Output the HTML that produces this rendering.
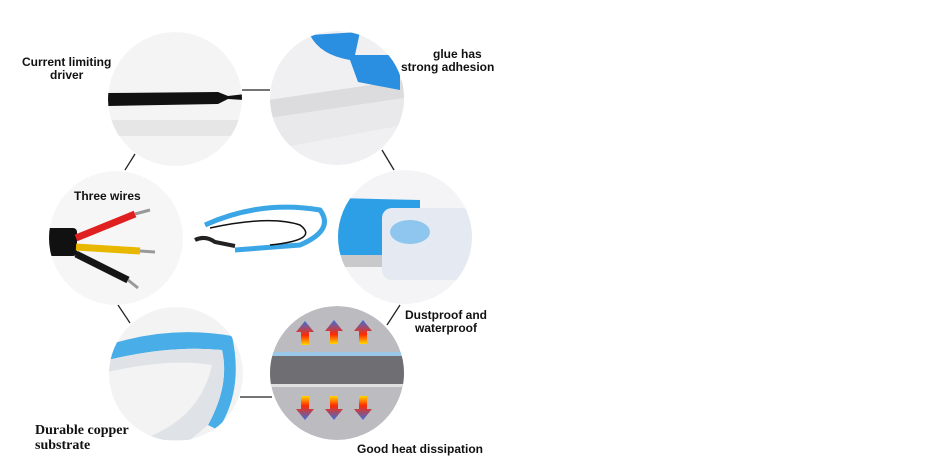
<!DOCTYPE html>
<html><head><style>
body{margin:0;width:950px;height:470px;background:#fff;overflow:hidden}
svg{position:absolute;left:0;top:0}
.t{font-family:"Liberation Sans",sans-serif;font-weight:bold;font-size:12px;fill:#111}
.s{font-family:"Liberation Serif",serif;font-weight:bold;font-size:14px;fill:#111}
</style></head><body>
<svg width="950" height="470" viewBox="0 0 950 470">
<defs>
<linearGradient id="ua" x1="0" y1="1" x2="0" y2="0"><stop offset="0" stop-color="#ffd800"/><stop offset=".4" stop-color="#ff2a00"/><stop offset="1" stop-color="#3a6fe0"/></linearGradient>
<linearGradient id="da" x1="0" y1="0" x2="0" y2="1"><stop offset="0" stop-color="#ffd800"/><stop offset=".4" stop-color="#ff2a00"/><stop offset="1" stop-color="#3a6fe0"/></linearGradient>
<clipPath id="c1"><circle cx="175" cy="99" r="67"/></clipPath>
<clipPath id="c2"><circle cx="337" cy="98" r="67"/></clipPath>
<clipPath id="c3"><circle cx="116" cy="238" r="67"/></clipPath>
<clipPath id="c4"><circle cx="405" cy="237" r="67"/></clipPath>
<clipPath id="c5"><circle cx="176" cy="374" r="67"/></clipPath>
<clipPath id="c6"><circle cx="337" cy="373" r="67"/></clipPath>
<g id="up"><path d="M0 -12 L9 -1 L4 -1 L4 12 L-4 12 L-4 -1 L-9 -1Z" fill="url(#ua)"/></g>
<g id="dn"><path d="M0 12 L9 1 L4 1 L4 -12 L-4 -12 L-4 1 L-9 1Z" fill="url(#da)"/></g>
</defs>
<g stroke="#222" stroke-width="1.3">
<line x1="242" y1="90" x2="270" y2="90"/><line x1="135" y1="154" x2="125" y2="170"/>
<line x1="382" y1="150" x2="394" y2="170"/><line x1="118" y1="305" x2="130" y2="323"/>
<line x1="400" y1="305" x2="387" y2="325"/><line x1="240" y1="397" x2="272" y2="397"/>
</g>
<g clip-path="url(#c1)"><circle cx="175" cy="99" r="67" fill="#f4f4f4"/>
<rect x="100" y="120" width="150" height="16" fill="#e6e6e6"/>
<path d="M108 93 L218 92 L228 96 L245 94 L245 100 L228 99 L218 104 L108 106Z" fill="#111"/></g>
<g clip-path="url(#c2)"><circle cx="337" cy="98" r="67" fill="#f0f0f2"/>
<path d="M268 100 L404 80 L404 110 L268 140Z" fill="#dcdcde"/><path d="M268 118 L404 98 L404 125 L268 150Z" fill="#e9e9ec"/>
<path d="M310 35 L360 32 L355 55 L400 55 L400 90 L358 82 L350 60 Q320 55 310 35Z" fill="#2a8fe0"/></g>
<g clip-path="url(#c3)"><circle cx="116" cy="238" r="67" fill="#f6f6f6"/>
<rect x="45" y="228" width="32" height="28" rx="4" fill="#111"/>
<path d="M76 238 L135 214" stroke="#e02020" stroke-width="7"/><path d="M76 247 L140 251" stroke="#e8b800" stroke-width="7"/>
<path d="M76 254 L128 280" stroke="#151515" stroke-width="7"/>
<path d="M135 214 L150 210 M140 251 L155 252 M128 280 L138 288" stroke="#999" stroke-width="3"/></g>
<g clip-path="url(#c4)"><circle cx="405" cy="237" r="67" fill="#f4f4f6"/>
<path d="M336 198 L420 200 L420 255 L336 255Z" fill="#2d9fe6"/><rect x="336" y="255" width="90" height="12" fill="#c9c9cc"/>
<rect x="382" y="208" width="90" height="72" rx="10" fill="#e5eaf2"/><ellipse cx="410" cy="232" rx="20" ry="12" fill="#8fc6f0"/></g>
<g clip-path="url(#c5)"><circle cx="176" cy="374" r="67" fill="#f3f3f3"/>
<path d="M108 345 Q170 325 232 336 Q244 390 218 430 L208 425 Q230 385 222 350 Q170 345 108 360Z" fill="#49aee8"/>
<path d="M108 360 Q170 345 222 350 Q230 385 208 425 L190 440 L140 440 Q200 420 212 365 Q170 358 108 372Z" fill="#dfe3e7"/></g>
<g clip-path="url(#c6)"><circle cx="337" cy="373" r="67" fill="#bcbcc0"/>
<rect x="268" y="355" width="140" height="30" fill="#6e6e73"/><rect x="268" y="352" width="140" height="4" fill="#9ac8e8"/><rect x="268" y="384" width="140" height="3" fill="#e0e0e0"/>
<use href="#up" x="305" y="333"/><use href="#up" x="334" y="332"/><use href="#up" x="363" y="332"/>
<use href="#dn" x="305" y="408"/><use href="#dn" x="334" y="408"/><use href="#dn" x="363" y="408"/></g>
<path d="M205 225 Q260 200 320 210 Q335 230 300 245 L235 250" stroke="#3aa6e6" stroke-width="5" fill="none"/>
<path d="M210 228 Q270 215 300 225 Q320 240 270 245" stroke="#111" stroke-width="1.5" fill="none"/>
<path d="M195 240 Q205 235 215 242 L235 246" stroke="#222" stroke-width="4" fill="none"/>
<text class="t" x="22" y="66">Current limiting</text><text class="t" x="50" y="79">driver</text>
<text class="t" x="433" y="58">glue has</text><text class="t" x="401" y="71">strong adhesion</text>
<text class="t" x="74" y="200">Three wires</text>
<text class="t" x="405" y="319">Dustproof and</text><text class="t" x="415" y="332">waterproof</text>
<text class="s" x="35" y="434">Durable copper</text><text class="s" x="35" y="449">substrate</text>
<text class="t" x="357" y="453">Good heat dissipation</text>
</svg>
</body></html>
